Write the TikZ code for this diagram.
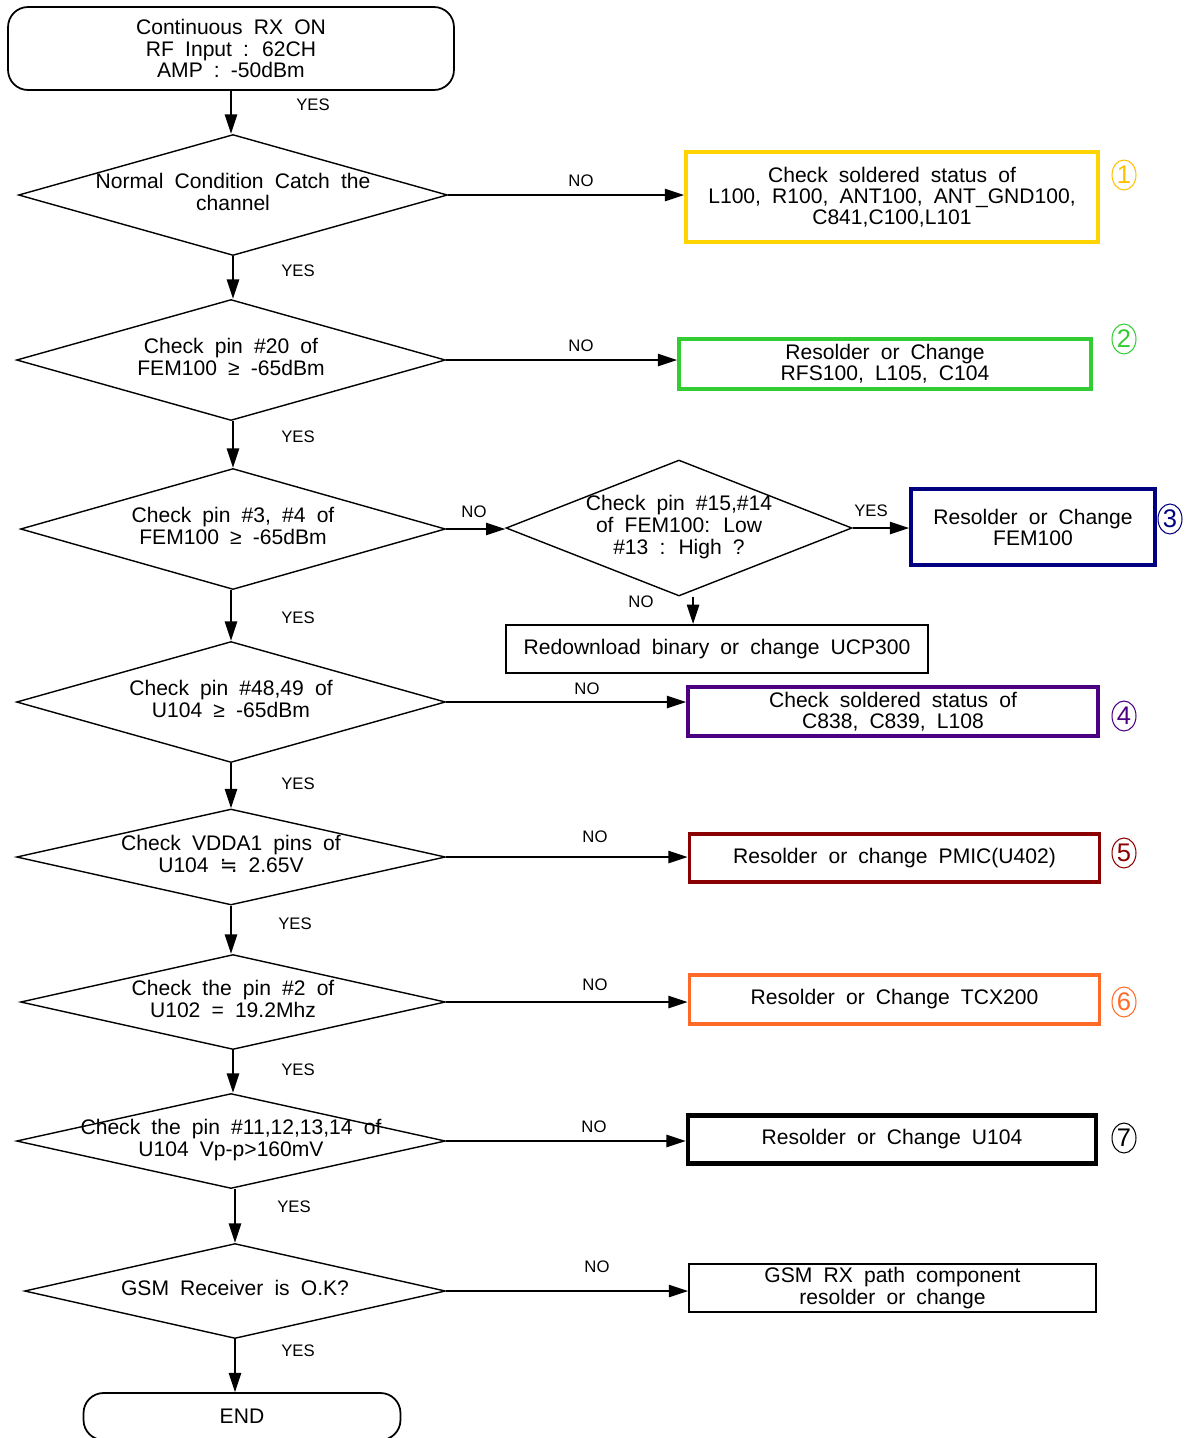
\documentclass[tikz,border=0pt]{standalone}
\usepackage{fontspec}
\setmainfont{Liberation Sans}[WordSpace=1.9]
\newfontfamily\symfont{DejaVu Sans}
\usetikzlibrary{shapes.geometric,arrows.meta}
\definecolor{fixyellow}{RGB}{255,212,0}
\definecolor{numyellow}{RGB}{255,192,0}
\definecolor{fixgreen}{RGB}{51,204,51}
\definecolor{fixnavy}{RGB}{0,0,128}
\definecolor{fixpurple}{RGB}{75,0,130}
\definecolor{fixred}{RGB}{139,0,0}
\definecolor{fixorange}{RGB}{255,106,40}
\newcommand\dtext[1]{\makebox[0pt]{\begin{tabular}{@{}c@{}}#1\end{tabular}}}
\begin{document}
\begin{tikzpicture}[
    x=0.02cm,y=-0.02cm,
    every node/.style={font=\fontsize{12}{12}\selectfont},
    startstop/.style={draw,line width=1pt,rounded corners=0.4cm,align=center,inner sep=0pt},
    decision/.style={draw,diamond,line width=0.8pt,inner sep=0pt,minimum width=8.58cm,minimum height=2.42cm},
    fixbox/.style={draw,line width=2.2pt,align=center,inner sep=0pt,minimum width=8.2cm,minimum height=0.97cm},
    answer/.style={font=\fontsize{9.5}{11}\selectfont},
    num/.style={draw,ellipse,line width=0.6pt,inner sep=0pt,minimum width=0.48cm,minimum height=0.6cm,
        font=\fontsize{14.5}{14.5}\selectfont},
    flow/.style={-{Triangle[length=11pt,width=7pt]},line width=1pt}]
    \useasboundingbox (0,0) rectangle (1190,1438);
    \node[startstop,minimum width=8.92cm,minimum height=1.66cm] (start) at (231,48.5)
        {Continuous RX ON\\RF Input : 62CH\\AMP : -50dBm};
    \node[decision] (d1) at (233,195) {\dtext{Normal Condition Catch the\\channel}};
    \node[decision] (d2) at (231,360) {\dtext{Check pin \#20 of\\FEM100 ≥ -65dBm}};
    \node[decision,minimum width=8.5cm] (d3) at (233,529) {\dtext{Check pin \#3, \#4 of\\FEM100 ≥ -65dBm}};
    \node[decision,minimum width=6.92cm,minimum height=2.72cm] (d3b) at (679,528)
        {\dtext{Check pin \#15,\#14\\of FEM100: Low\\\#13 : High ?}};
    \node[decision] (d4) at (231,702) {\dtext{Check pin \#48,49 of\\U104 ≥ -65dBm}};
    \node[decision,minimum height=1.92cm] (d5) at (231,857) {\dtext{Check VDDA1 pins of\\U104 {\symfont ≒} 2.65V}};
    \node[decision,minimum width=8.5cm,minimum height=1.9cm] (d6) at (233,1002) {\dtext{Check the pin \#2 of\\U102 = 19.2Mhz}};
    \node[decision,minimum height=1.9cm] (d7) at (231,1141) {\dtext{Check the pin \#11,12,13,14 of\\U104 Vp-p>160mV}};
    \node[decision,minimum width=8.42cm,minimum height=1.9cm] (d8) at (235,1291) {\dtext{GSM Receiver is O.K?}};
    \node[startstop,minimum width=6.34cm,minimum height=0.94cm] (stop) at (242,1416.5) {END};
    \node[fixbox,draw=fixyellow,minimum width=8.24cm,minimum height=1.8cm] (b1) at (892,197)
        {Check soldered status of\\L100, R100, ANT100, ANT\_GND100,\\C841,C100,L101};
    \node[fixbox,draw=fixgreen,minimum width=8.24cm,minimum height=1cm] (b2) at (885,364)
        {Resolder or Change\\RFS100, L105, C104};
    \node[fixbox,draw=fixnavy,minimum width=4.88cm,minimum height=1.52cm] (b3) at (1033,527)
        {Resolder or Change\\FEM100};
    \node[fixbox,line width=1.1pt,minimum width=8.44cm,minimum height=0.96cm] (redl) at (717,649)
        {Redownload binary or change UCP300};
    \node[fixbox,draw=fixpurple] (b4) at (893,711.5) {Check soldered status of\\C838, C839, L108};
    \node[fixbox,draw=fixred] (b5) at (894.5,858) {Resolder or change PMIC(U402)};
    \node[fixbox,draw=fixorange] (b6) at (894.5,999.5) {Resolder or Change TCX200};
    \node[fixbox,line width=2.6pt,minimum width=8.16cm] (b7) at (892,1139.5) {Resolder or Change U104};
    \node[fixbox,line width=1.1pt,minimum width=8.14cm] (b8) at (892.5,1288)
        {GSM RX path component\\resolder or change};
    \node[num,numyellow] (n1) at (1124,175) {1};
    \node[num,fixgreen] (n2) at (1124,339) {2};
    \node[num,fixnavy] (n3) at (1170,519) {3};
    \node[num,fixpurple] (n4) at (1124,716) {4};
    \node[num,fixred] (n5) at (1124,853) {5};
    \node[num,fixorange] (n6) at (1124,1002) {6};
    \node[num] (n7) at (1124,1138) {7};
    \draw[flow] (start.south) -- (start.south |- d1.north);
    \draw[flow] (d1.south) -- (d1.south |- d2.north);
    \draw[flow] (d3.north |- d2.south) -- (d3.north);
    \draw[flow] (d4.north |- d3.south) -- (d4.north);
    \draw[flow] (d5.north |- d4.south) -- (d5.north);
    \draw[flow] (d5.south) -- (d5.south |- d6.north);
    \draw[flow] (d6.south) -- (d6.south |- d7.north);
    \draw[flow] (d8.north |- d7.south) -- (d8.north);
    \draw[flow] (d8.south) -- (d8.south |- stop.north);
    \draw[flow] (d1.east) -- (d1.east -| b1.west);
    \draw[flow] (d2.east) -- (d2.east -| b2.west);
    \draw[flow] (d3.east) -- (d3.east -| d3b.west);
    \draw[flow] (d3b.east) -- (d3b.east -| b3.west);
    \draw[flow] ([xshift=8]d3b.south) -- ([xshift=8]d3b.south |- redl.north);
    \draw[flow] (d4.east) -- (d4.east -| b4.west);
    \draw[flow] (d5.east) -- (d5.east -| b5.west);
    \draw[flow] (d6.east) -- (d6.east -| b6.west);
    \draw[flow] (d7.east) -- (d7.east -| b7.west);
    \draw[flow] (d8.east) -- (d8.east -| b8.west);
    \foreach \p [count=\i] in {(313,105),(298,271),(298,437),(298,618),(298,784),
        (295,924),(298,1070),(294,1207),(298,1351),(871,511)}
        \node[answer] (yes\i) at \p {YES};
    \foreach \p [count=\i] in {(581,181),(581,346),(474,512),(641,602),(587,689),
        (595,837),(595,985),(594,1127),(597,1267)}
        \node[answer] (no\i) at \p {NO};
\end{tikzpicture}
\end{document}
